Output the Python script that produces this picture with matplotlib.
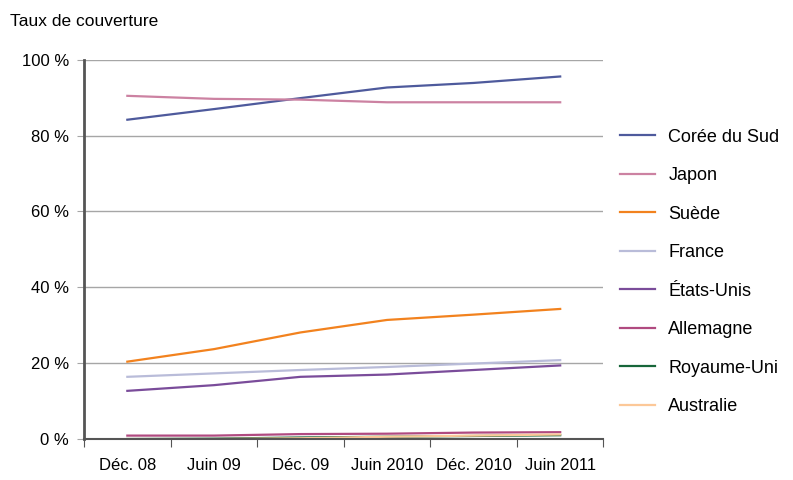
import matplotlib
matplotlib.use("Agg")
import matplotlib.pyplot as plt
import numpy as np

plt.rcParams['font.family'] = ['Liberation Sans', 'DejaVu Sans']

# periods on the x axis
periods = ["Déc. 08", "Juin 09", "Déc. 09", "Juin 2010", "Déc. 2010", "Juin 2011"]

# coverage rate (%) per country
coree = [84.2, 87.0, 89.9, 92.7, 93.9, 95.6]
japon = [90.5, 89.7, 89.5, 88.8, 88.8, 88.8]
suede = [20.4, 23.7, 28.1, 31.4, 32.8, 34.3]
france = [16.4, 17.3, 18.2, 19.0, 19.9, 20.8]
etats_unis = [12.7, 14.2, 16.4, 17.0, 18.2, 19.4]
allemagne = [0.9, 0.9, 1.3, 1.4, 1.7, 1.8]
royaume_uni = [0.0, 0.1, 0.4, 0.6, 0.8, 1.0]
australie = [0.0, 0.0, 0.2, 0.6, 0.9, 1.2]

series = [
    ("Corée du Sud", coree, "#4e5a9c"),
    ("Japon", japon, "#cc82a2"),
    ("Suède", suede, "#f2821e"),
    ("France", france, "#b9bcd9"),
    ("États-Unis", etats_unis, "#7a4c9a"),
    ("Allemagne", allemagne, "#b04a80"),
    ("Royaume-Uni", royaume_uni, "#17663a"),
    ("Australie", australie, "#fcc898"),
]

fig = plt.figure(figsize=(7.93, 4.8), dpi=100)
ax = fig.add_axes([0.106, 0.0854, 0.655, 0.79])

x = np.arange(len(periods))
for name, vals, col in series:
    ax.plot(x, vals, color=col, linewidth=1.6, label=name)

ax.set_ylim(0, 100)
ax.set_xlim(-0.5, len(periods) - 0.5)
ax.set_yticks([0, 20, 40, 60, 80, 100])
ax.set_yticklabels([f"{v} %" for v in [0, 20, 40, 60, 80, 100]], fontsize=12)
ax.yaxis.grid(True, color="#a6a6a6", linewidth=1.0)
ax.set_axisbelow(True)

# category labels sit between the boundary ticks
ax.set_xticks(np.arange(-0.5, len(periods), 1.0))
ax.set_xticklabels([])
ax.set_xticks(x, minor=True)
ax.set_xticklabels(periods, minor=True, fontsize=12)
ax.tick_params(axis="x", which="minor", length=0, pad=14)
ax.tick_params(axis="x", which="major", length=6, color="#555555")
ax.tick_params(axis="y", length=5, color="#a6a6a6", pad=6)

for s in ["top", "right"]:
    ax.spines[s].set_visible(False)
ax.spines["left"].set_color("#555555")
ax.spines["left"].set_linewidth(2)
ax.spines["bottom"].set_color("#555555")
ax.spines["bottom"].set_linewidth(1.5)

fig.text(0.013, 0.956, "Taux de couverture", fontsize=12.5, va="center", ha="left")

fig.legend(loc="upper left", bbox_to_anchor=(0.782, 0.732), frameon=False,
           borderpad=0, borderaxespad=0,
           fontsize=13, handlelength=1.95, labelspacing=1.19, handletextpad=0.72)

fig.savefig("out.png", dpi=100)
